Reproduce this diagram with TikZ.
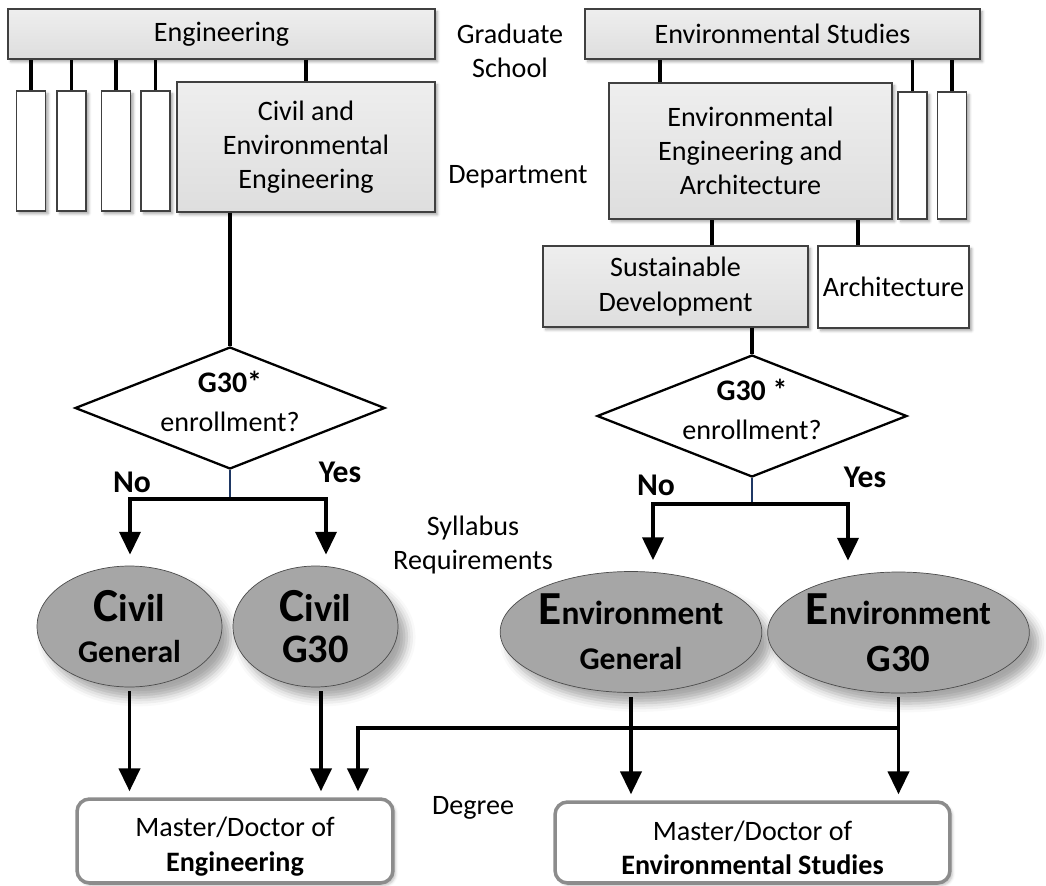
\documentclass[tikz,border=0pt]{standalone}
\usepackage{fontspec}
\setmainfont{Carlito}
\usepackage{tikz}
\usetikzlibrary{arrows.meta,shapes.geometric,shadows.blur,calc}
\definecolor{boxtop}{HTML}{EEEEEE}
\definecolor{boxgray}{HTML}{DEDEDE}
\definecolor{ovalgray}{HTML}{A6A6A6}
\definecolor{rimgray}{HTML}{8C8C8C}
\definecolor{stubblue}{HTML}{1F3864}

\begin{document}
\begin{tikzpicture}
	[
	 x = 0.02cm,
	 y = -0.02cm,
	 every node/.style = {align=center,
	                      inner sep = 0pt,
	                      font=\fontsize{16}{19.5}\selectfont
	                     },
	 gbox/.style = {shape=rectangle,
	                draw = black!75,
	                line width = 0.8pt,
	                top color = boxtop,
	                bottom color = boxgray,
	                blur shadow = {shadow xshift=1.5pt, shadow yshift=-1.5pt,
	                               shadow opacity=35, shadow blur radius=1.5pt}},
	 wbox/.style = {gbox, top color = white, bottom color = white},
	 thin/.style = {wbox, minimum width = 0.58cm},
	 ask/.style  = {shape=diamond,
	                draw,
	                fill = white,
	                line width = 1.3pt,
	                minimum width = 6.2cm,
	                minimum height = 2.44cm},
	 asktext/.style = {font=\fontsize{16}{22.5}\selectfont},
	 oval/.style = {shape=ellipse,
	                draw = black!70,
	                line width = 0.4pt,
	                fill = ovalgray,
	                minimum height = 2.42cm,
	                font=\bfseries\fontsize{18}{23}\selectfont,
	                blur shadow = {shadow xshift=5pt, shadow yshift=-6pt,
	                               shadow opacity=35, shadow blur radius=5pt}},
	 degree/.style = {shape=rectangle,
	                  rounded corners = 2.5mm,
	                  draw = rimgray,
	                  line width = 2pt,
	                  fill = white,
	                  text height = 37pt,
	                  blur shadow = {shadow xshift=1.5pt, shadow yshift=-1.5pt,
	                                 shadow opacity=25, shadow blur radius=1.5pt}},
	 link/.style = {line width = 2pt},
	 flow/.style = {line width = 2pt, -{Triangle[length=13pt,width=12pt]}},
	 stub/.style = {line width = 1.2pt, draw = stubblue},
	 yn/.style   = {font=\bfseries\fontsize{18}{22}\selectfont}
	]

	\newcommand{\CEE}{Civil and\\Environmental\\Engineering}
	\newcommand{\EEA}{Environmental\\Engineering and\\Architecture}
	\newcommand{\BigL}[1]{{\fontsize{27}{27}\selectfont #1}}
	\newcommand{\Gq}[1]{{\bfseries\fontsize{17}{20}\selectfont #1}\\enrollment?}

	\useasboundingbox (0,0) rectangle (1046,886);

	\node[gbox, minimum width=8.54cm, minimum height=1cm] (GE) at (221.5,34) {Engineering};
	\node[gbox, minimum width=7.9cm, minimum height=1cm] (GS) at (782.5,34) {Environmental Studies};

	\node[gbox, minimum width=5.16cm, minimum height=2.6cm] (DC) at (306,147) {\CEE};
	\node[gbox, minimum width=5.66cm, minimum height=2.72cm] (DE) at (750.5,151) {\EEA};
	\foreach \x [count=\i] in {31,71.5,116,155.5} {
		\node[thin, minimum height=2.4cm] (L\i) at (\x,151) {};
		\draw[link] (L\i.north) -- (L\i.north |- GE.south);
	}
	\foreach \x [count=\i] in {912.5,952} {
		\node[thin, minimum height=2.54cm] (R\i) at (\x,155.5) {};
		\draw[link] (R\i.north) -- (R\i.north |- GS.south);
	}
	\node[gbox, minimum width=5.3cm, minimum height=1.62cm] (SD) at (675.5,286.5) {Sustainable\\Development};
	\node[wbox, minimum width=3.02cm, minimum height=1.64cm] (AC) at (893.5,287) {Architecture};

	\draw[link] (GE.south -| DC.north) -- (DC.north);
	\draw[link] ([xshift=-1.81cm]DE.north) -- ([xshift=-1.81cm]DE.north |- GS.south);
	\draw[link] ([xshift=0.73cm]SD.north) -- ([xshift=0.73cm]SD.north |- DE.south);
	\draw[link] ([xshift=-0.71cm]AC.north) -- ([xshift=-0.71cm]AC.north |- DE.south);

	\node[ask] (Q1) at (230,408) {};
	\node[ask] (Q2) at (752,416) {};
	\node[asktext] (q1) at ([yshift=0.13cm]Q1.center) {\Gq{G30*}};
	\node[asktext] (q2) at ([yshift=0.13cm]Q2.center) {\Gq{G30 *}};
	\draw[link] (DC.south -| Q1.north) -- (Q1.north);
	\draw[link] (SD.south -| Q2.north) -- (Q2.north);

	\node[oval, minimum width=3.7cm] (C1) at (129.5,626.5) {\BigL{C}{\fontsize{22}{22}\selectfont ivil}\\General};
	\node[oval, minimum width=3.3cm] (C2) at (315.5,626.5) {\BigL{C}{\fontsize{22}{22}\selectfont ivil}\\{\fontsize{23}{24}\selectfont G30}};
	\node[oval, minimum width=5.2cm, font=\bfseries\fontsize{19}{25.5}\selectfont] (E1) at (631,632) {\BigL{E}nvironment\\{\fontsize{18}{20}\selectfont General}};
	\node[oval, minimum width=5.18cm, font=\bfseries\fontsize{19}{26.5}\selectfont] (E2) at (898.5,632.5) {\BigL{E}nvironment\\{\fontsize{22}{24}\selectfont G30}};

	\coordinate (N1) at (130,499);
	\coordinate (Y1) at (326,499);
	\coordinate (N2) at (653,504);
	\coordinate (Y2) at (848,504);
	\draw[stub] (Q1.south) -- (Q1.south |- N1);
	\draw[stub] (Q2.south) -- (Q2.south |- N2);
	\draw[flow, shorten >=0.22cm] (Y1) -- (N1) -- (N1 |- C1.north);
	\draw[flow, shorten >=0.22cm] (N1) -- (Y1) -- (Y1 |- C2.north);
	\draw[flow, shorten >=0.22cm] (Y2) -- (N2) -- (N2 |- E1.north);
	\draw[flow, shorten >=0.22cm] (N2) -- (Y2) -- (Y2 |- E2.north);

	\node[yn] (n1) at (132,482) {No};
	\node[yn] (y1) at (340,472) {Yes};
	\node[yn] (n2) at (656,485) {No};
	\node[yn] (y2) at (865,477) {Yes};

	\node[degree, minimum width=6.32cm, minimum height=1.68cm] (M1) at (235,841) {Master/Doctor of\\\textbf{Engineering}};
	\node[degree, minimum width=7.9cm, minimum height=1.62cm] (M2) at (752.5,842.5) {Master/Doctor of\\\textbf{Environmental Studies}};

	\coordinate (J) at (897,728);
	\draw[flow, shorten <=0.08cm, shorten >=0.12cm] (C1.south) -- (C1.south |- M1.north);
	\draw[flow, shorten <=0.08cm, shorten >=0.12cm] ([xshift=0.11cm]C2.south) -- ([xshift=0.11cm]C2.south |- M1.north);
	\draw[flow, shorten <=0.08cm, shorten >=0.12cm] (E1.south) -- (E1.south |- M2.north);
	\draw[flow, shorten <=0.08cm, shorten >=0.12cm] (E2.south) -- (E2.south |- M2.north);
	\draw[flow, shorten >=0.12cm] (J) -| ([xshift=2.46cm]M1.north);

	\node (T1) at (510,51) {Graduate\\School};
	\node (T2) at (518,177) {Department};
	\node (T3) at (473,545) {Syllabus\\Requirements};
	\node (T4) at (473,808) {Degree};
\end{tikzpicture}
\end{document}
